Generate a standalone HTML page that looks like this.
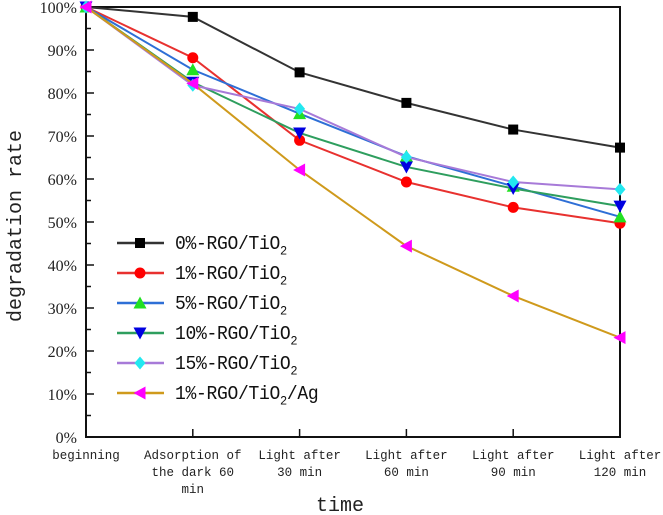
<!DOCTYPE html>
<html><head><meta charset="utf-8"><style>
html,body{margin:0;padding:0;background:#fff;}
svg{display:block;}
.tk{font-family:"Liberation Serif",serif;font-size:16px;fill:#222;}
.xl{font-family:"Liberation Mono",monospace;font-size:12.5px;fill:#222;}
.lg{font-family:"Liberation Mono",monospace;font-size:18px;fill:#111;letter-spacing:-0.3px;}
.ti{font-family:"Liberation Mono",monospace;font-size:20px;fill:#222;}
</style></head><body>
<svg id="chart" width="663" height="515" viewBox="0 0 663 515"></svg>
<script>
const categories=[["beginning"],["Adsorption of","the dark 60","min"],["Light after","30 min"],["Light after","60 min"],["Light after","90 min"],["Light after","120 min"]];
const yTicks=[0,10,20,30,40,50,60,70,80,90,100];
const seriesNames=["0%-RGO/TiO","1%-RGO/TiO","5%-RGO/TiO","10%-RGO/TiO","15%-RGO/TiO","1%-RGO/TiO"];
const s0=[100,97.7,84.8,77.7,71.5,67.3];
const s1=[100,88.2,69.0,59.3,53.4,49.7];
const s5=[100,85.4,75.2,65.3,58.3,51.2];
const s10=[100,82.5,70.7,62.8,57.8,53.7];
const s15=[100,81.8,76.3,65.1,59.3,57.6];
const sAg=[100,82.2,62.1,44.4,32.8,23.1];

const NS="http://www.w3.org/2000/svg";
const svg=document.getElementById('chart');
const L=86,R=620,T=7,B=437;
const xs=i=>L+(R-L)*i/(categories.length-1);
const ys=v=>B-(B-T)*v/100;
function mk(tag,attrs,parent){const e=document.createElementNS(NS,tag);for(const k in attrs)e.setAttribute(k,attrs[k]);(parent||svg).appendChild(e);return e;}

const frame=mk('rect',{x:L,y:T,width:R-L,height:B-T,fill:'none',stroke:'#111','stroke-width':2});



yTicks.forEach(v=>{
  const y=ys(v);
  const t=mk('line',{x1:L,x2:L+8,y1:y,y2:y,stroke:'#111','stroke-width':1.5});
  
  
  if(v<100){const m=mk('line',{x1:L,x2:L+5,y1:ys(v+5),y2:ys(v+5),stroke:'#111','stroke-width':1.5});
    
    }
  const lb=mk('text',{x:77,y:y+6,'text-anchor':'end',class:'tk'});
  lb.textContent=v+'%';
  
  
});
categories.forEach((c,i)=>{
  const x=xs(i);
  if(i>0&&i<categories.length-1){const t=mk('line',{x1:x,x2:x,y1:B,y2:B-8,stroke:'#111','stroke-width':1.5});
    
    }
  const tx=mk('text',{x:x,y:459,'text-anchor':'middle',class:'xl'});
  
  
  c.forEach((ln,j)=>{const ts=mk('tspan',{x:x,y:459+j*17},tx);ts.textContent=ln;});
});

const yt=mk('text',{x:0,y:0,transform:'translate(21,226) rotate(-90)','text-anchor':'middle',class:'ti'});
yt.textContent='degradation rate';


const xt=mk('text',{x:340,y:511,'text-anchor':'middle',class:'ti'});
xt.textContent='time';



function marker(type,x,y,col,g){
  const r=5.5;
  if(type==='sq') return mk('rect',{x:x-r+0.5,y:y-r+0.5,width:2*r-1,height:2*r-1,fill:col},g);
  if(type==='ci') return mk('circle',{cx:x,cy:y,r:r,fill:col},g);
  if(type==='up') return mk('polygon',{points:`${x},${y-r-1} ${x-r-1},${y+r} ${x+r+1},${y+r}`,fill:col},g);
  if(type==='dn') return mk('polygon',{points:`${x},${y+r+1} ${x-r-1},${y-r} ${x+r+1},${y-r}`,fill:col},g);
  if(type==='di') return mk('polygon',{points:`${x},${y-r-1} ${x+r},${y} ${x},${y+r+1} ${x-r},${y}`,fill:col},g);
  if(type==='lt') return mk('polygon',{points:`${x-r-1},${y} ${x+r},${y-r-1} ${x+r},${y+r+1}`,fill:col},g);
}
const series=[
 {d:s0,line:'#333',mc:'#000',m:'sq',name:'series-0pct'},
 {d:s1,line:'#e8312f',mc:'#ff0000',m:'ci',name:'series-1pct'},
 {d:s5,line:'#2e6fd6',mc:'#22e022',m:'up',name:'series-5pct'},
 {d:s10,line:'#2e9e5e',mc:'#0000e0',m:'dn',name:'series-10pct'},
 {d:s15,line:'#a77ad8',mc:'#22e8f0',m:'di',name:'series-15pct'},
 {d:sAg,line:'#cf9a1c',mc:'#ff00ff',m:'lt',name:'series-1pct-ag'}
];
series.forEach((s,k)=>{
  const g=mk('g',{});
  
  
  mk('polyline',{points:s.d.map((v,i)=>xs(i)+','+ys(v)).join(' '),fill:'none',stroke:s.line,'stroke-width':2},g);
  s.d.forEach((v,i)=>{const p=marker(s.m,xs(i),ys(v),s.mc,g);
    
    });
  const ly=243+k*30;
  const lg=mk('g',{});
  
  
  mk('line',{x1:117,x2:164,y1:ly,y2:ly,stroke:s.line,'stroke-width':2.5},lg);
  marker(s.m,140,ly,s.mc,lg);
  const t=mk('text',{x:0,y:0,class:'lg',transform:`translate(175,${ly+6}) scale(1,1.1)`},lg);
  t.appendChild(document.createTextNode(seriesNames[k]));
  const sub=mk('tspan',{'font-size':'12px',dy:5},t);sub.textContent='2';
  if(k===5){const a=mk('tspan',{dy:-5},t);a.textContent='/Ag';}
});
</script>
</body></html>
